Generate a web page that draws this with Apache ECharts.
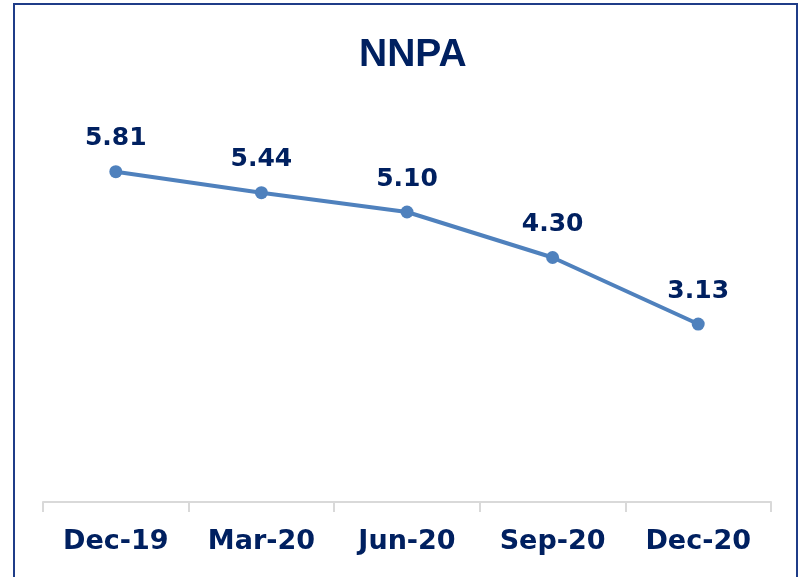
<!DOCTYPE html>
<html lang="en">
<head>
    <meta charset="UTF-8">
    <title>NNPA</title>
    <style>
        html,body{
            margin: 0;
            height: 100%;
            background: #fff;
        }
        #main{
            width: 800px;
            height: 577px;
        }
    </style>
</head>
<body>
<script src="https://cdn.jsdelivr.net/npm/echarts@6/dist/echarts.min.js"></script>
<div id="main"></div>
<script>
    // 数据
    var quarters = ['Dec-19', 'Mar-20', 'Jun-20', 'Sep-20', 'Dec-20'];
    var nnpa = [5.81, 5.44, 5.10, 4.30, 3.13];

    var navy = '#002060';

    var myChart = echarts.init(document.getElementById('main'));
    var option = {
        backgroundColor: '#fff',
        animation: false,
        title: {
            text: 'NNPA',
            left: 354,
            top: 31,
            textStyle: {
                color: navy,
                fontSize: 39,
                fontWeight: 'bold',
                fontFamily: 'Liberation Sans'
            }
        },
        // 外边框
        graphic: [{
            type: 'rect',
            shape: {x: 14, y: 4, width: 783, height: 590},
            style: {fill: 'none', stroke: '#1f3c88', lineWidth: 2}
        }],
        grid: {
            left: 43,
            right: 29,
            top: 104,
            bottom: 75
        },
        xAxis: {
            type: 'category',
            data: quarters,
            boundaryGap: true,
            axisLine: {lineStyle: {color: '#d9d9d9', width: 2}},
            axisTick: {show: true, length: 10, lineStyle: {color: '#d9d9d9', width: 2}},
            axisLabel: {
                color: navy,
                fontSize: 27,
                fontWeight: 'bold',
                fontFamily: 'DejaVu Sans',
                margin: 26
            }
        },
        yAxis: {
            type: 'value',
            min: 0,
            max: 7,
            show: false,
            splitLine: {show: false}
        },
        series: [{
            type: 'line',
            data: nnpa,
            symbol: 'circle',
            symbolSize: 13,
            lineStyle: {color: '#4f81bd', width: 4},
            itemStyle: {color: '#4f81bd'},
            label: {
                show: true,
                position: 'top',
                distance: 14,
                color: navy,
                fontSize: 25,
                fontWeight: 'bold',
                fontFamily: 'DejaVu Sans',
                formatter: function (p) {
                    return p.value.toFixed(2);
                }
            }
        }]
    };
    myChart.setOption(option);
</script>
</body>
</html>
